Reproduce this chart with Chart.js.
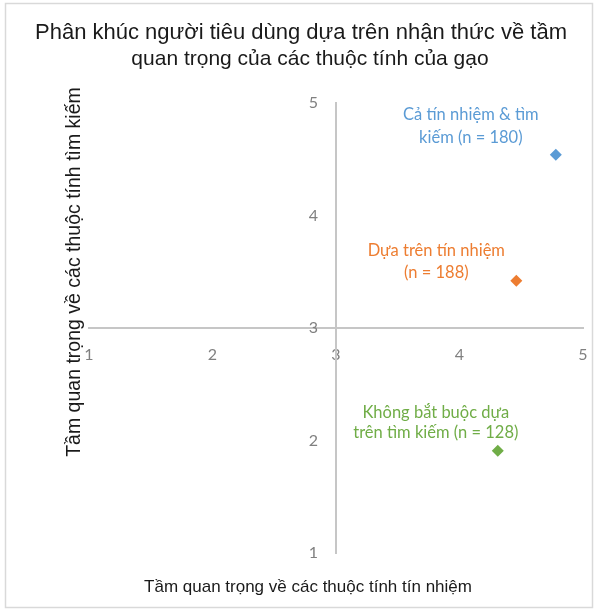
<!DOCTYPE html>
<html>
<head>
<meta charset="utf-8">
<script src="https://cdn.jsdelivr.net/npm/chart.js@4.4.1/dist/chart.umd.min.js"></script>
<style>
  html, body { margin: 0; padding: 0; background: #fff; }
  #wrap { width: 595px; height: 610px; position: relative; }
</style>
</head>
<body>
<div id="wrap"><canvas id="c" width="595" height="610"></canvas></div>
<script>
// Segments: mean importance of credence (x) and search (y) attributes
const segmentLabels = [
  ['Cả tín nhiệm & tìm', 'kiếm (n = 180)'],
  ['Dựa trên tín nhiệm', '(n = 188)'],
  ['Không bắt buộc dựa', 'trên tìm kiếm (n = 128)']
];
const credenceValues = [4.78, 4.46, 4.31];
const searchValues = [4.54, 3.42, 1.91];
const segmentColors = ['#5b9bd5', '#ed7d31', '#70ad47'];
const tickValues = [1, 2, 3, 4, 5];

const titleLines = [
  'Phân khúc người tiêu dùng dựa trên nhận thức về tầm',
  'quan trọng của các thuộc tính của gạo'
];
const xTitle = 'Tầm quan trọng về các thuộc tính tín nhiệm';
const yTitle = 'Tầm quan trọng về các thuộc tính tìm kiếm';

// label placement relative to each marker (pixels)
const labelOffsets = [
  { dx: -85, dy: [-40, -17] },
  { dx: -80, dy: [-30, -8] },
  { dx: -62, dy: [-38, -18] }
];

const datasets = credenceValues.map((x, i) => ({
  label: segmentLabels[i].join(' '),
  data: [{ x: x, y: searchValues[i] }],
  pointStyle: 'rectRot',
  pointRadius: 6,
  pointHoverRadius: 6,
  backgroundColor: segmentColors[i],
  borderColor: segmentColors[i],
  borderWidth: 0
}));

const tickFontCss = '16px Lato, "Open Sans", sans-serif';

const decorPlugin = {
  id: 'decor',
  beforeDraw(chart) {
    const ctx = chart.ctx;
    ctx.save();
    ctx.fillStyle = '#ffffff';
    ctx.fillRect(0, 0, chart.width, chart.height);
    ctx.strokeStyle = '#d9d9d9';
    ctx.lineWidth = 1.5;
    ctx.strokeRect(5.5, 3.5, chart.width - 8, chart.height - 6);
    ctx.restore();
  },
  afterDraw(chart) {
    const ctx = chart.ctx;
    const xs = chart.scales.x, ys = chart.scales.y;
    ctx.save();
    // y tick labels, set off to the left of the central vertical axis
    ctx.fillStyle = '#808080';
    ctx.font = tickFontCss;
    ctx.textAlign = 'right';
    ctx.textBaseline = 'middle';
    const axisX = xs.getPixelForValue(3);
    ys.ticks.forEach(t => {
      ctx.fillText(String(t.value), axisX - 18, ys.getPixelForValue(t.value));
    });

    ctx.textAlign = 'center';
    // title
    ctx.fillStyle = '#1a1a1a';
    ctx.font = '22px "Liberation Sans", Arial, sans-serif';
    ctx.fillText(titleLines[0], 301, 33);
    ctx.font = '21px "Liberation Sans", Arial, sans-serif';
    ctx.fillText(titleLines[1], 310, 59);
    // axis titles
    ctx.font = '17px "Liberation Sans", Arial, sans-serif';
    ctx.fillText(xTitle, 308, 587);
    ctx.save();
    ctx.translate(75, 272);
    ctx.rotate(-Math.PI / 2);
    ctx.font = '19.5px "Liberation Sans", Arial, sans-serif';
    ctx.fillText(yTitle, 0, 0);
    ctx.restore();
    // segment labels
    ctx.font = '16.5px Lato, "Open Sans", sans-serif';
    credenceValues.forEach((x, i) => {
      const px = xs.getPixelForValue(x);
      const py = ys.getPixelForValue(searchValues[i]);
      ctx.fillStyle = segmentColors[i];
      segmentLabels[i].forEach((line, j) => {
        ctx.fillText(line, px + labelOffsets[i].dx, py + labelOffsets[i].dy[j]);
      });
    });
    ctx.restore();
  }
};

const tickFont = { family: 'Lato, "Open Sans", sans-serif', size: 16 };

new Chart(document.getElementById('c'), {
  type: 'scatter',
  data: { datasets: datasets },
  options: {
    responsive: false,
    animation: false,
    devicePixelRatio: 1,
    layout: { padding: { left: 89, right: 12, top: 103, bottom: 57 } },
    plugins: {
      legend: { display: false },
      title: { display: false },
      tooltip: { enabled: false }
    },
    scales: {
      x: {
        type: 'linear',
        position: { y: 3 },
        min: tickValues[0],
        max: tickValues[tickValues.length - 1],
        afterBuildTicks: (s) => { s.ticks = tickValues.map(v => ({ value: v })); },
        grid: { display: false, drawTicks: true, tickLength: 17 },
        border: { display: true, color: '#c6c6c6', width: 2 },
        ticks: { color: '#808080', font: tickFont, padding: 0, maxRotation: 0 }
      },
      y: {
        type: 'linear',
        position: { x: 3 },
        min: tickValues[0],
        max: tickValues[tickValues.length - 1],
        afterBuildTicks: (s) => { s.ticks = tickValues.map(v => ({ value: v })); },
        grid: { display: false, drawTicks: false },
        border: { display: true, color: '#c6c6c6', width: 2 },
        ticks: { display: false }
      }
    }
  },
  plugins: [decorPlugin]
});
</script>
</body>
</html>
